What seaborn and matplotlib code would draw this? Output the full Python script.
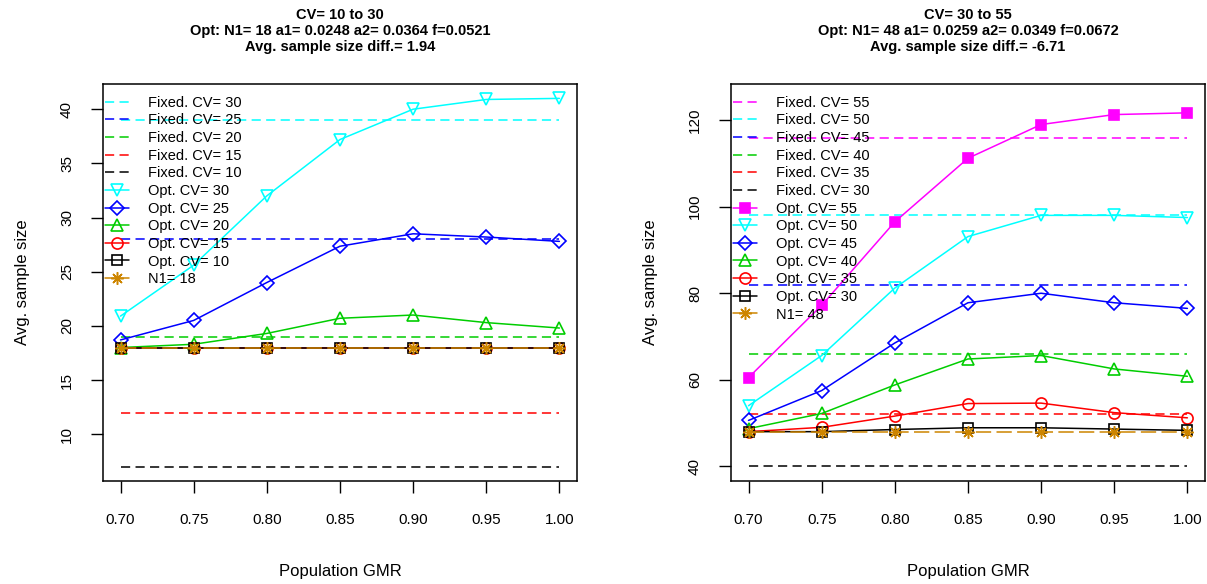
import matplotlib
matplotlib.use("Agg")
import matplotlib.pyplot as plt
import seaborn as sns

# population GMR grid
gmr = [0.70, 0.75, 0.80, 0.85, 0.90, 0.95, 1.00]

# left panel: CV 10 to 30
left_fixed_cv = [30, 25, 20, 15, 10]
left_fixed_n = [39, 28, 19, 12, 7]
left_opt_cv = [30, 25, 20, 15, 10]
left_opt_30 = [20.9, 25.6, 32.0, 37.2, 40.0, 40.9, 41.0]
left_opt_25 = [18.7, 20.5, 24.0, 27.35, 28.5, 28.2, 27.8]
left_opt_20 = [18.0, 18.3, 19.3, 20.7, 21.0, 20.3, 19.8]
left_opt_15 = [18.0, 18.0, 18.0, 18.0, 18.0, 18.0, 18.0]
left_opt_10 = [18.0, 18.0, 18.0, 18.0, 18.0, 18.0, 18.0]
left_n1 = 18

# right panel: CV 30 to 55
right_fixed_cv = [55, 50, 45, 40, 35, 30]
right_fixed_n = [116, 98, 82, 66, 52, 40]
right_opt_cv = [55, 50, 45, 40, 35, 30]
right_opt_55 = [60.5, 77.2, 96.5, 111.2, 119.0, 121.3, 121.7]
right_opt_50 = [54.0, 65.6, 81.2, 93.1, 98.0, 98.0, 97.5]
right_opt_45 = [50.6, 57.5, 68.5, 77.8, 80.0, 77.8, 76.5]
right_opt_40 = [48.7, 52.2, 58.8, 64.8, 65.6, 62.5, 60.8]
right_opt_35 = [48.0, 49.0, 51.6, 54.5, 54.6, 52.4, 51.2]
right_opt_30 = [48.0, 48.0, 48.5, 48.9, 48.9, 48.6, 48.3]
right_n1 = 48

left_title = ("CV= 10 to 30\nOpt: N1= 18 a1= 0.0248 a2= 0.0364 f=0.0521\n"
              "Avg. sample size diff.= 1.94")
right_title = ("CV= 30 to 55\nOpt: N1= 48 a1= 0.0259 a2= 0.0349 f=0.0672\n"
               "Avg. sample size diff.= -6.71")

GREEN = "#00CD00"
ORANGE = "#CD8500"
left_style = {30: ("cyan", "v", False), 25: ("blue", "D", False), 20: (GREEN, "^", False),
              15: ("red", "o", False), 10: ("black", "s", False)}
right_style = {55: ("magenta", "s", True), 50: ("cyan", "v", False), 45: ("blue", "D", False),
               40: (GREEN, "^", False), 35: ("red", "o", False), 30: ("black", "s", False)}
msize = {"v": 9, "D": 7, "^": 9, "o": 8, "s": 7}

sns.set_style("ticks")
plt.rcParams["font.family"] = ["Liberation Sans", "DejaVu Sans"]
plt.rcParams["text.color"] = "black"
plt.rcParams["axes.labelcolor"] = "black"

DASH = (0, (6, 3.5))
LW = 1.1


def draw_panel(ax, fixed_cv, fixed_n, opt_cv, opt_vals, n1, style, title, ylim, yticks):
    for cv, n in zip(fixed_cv, fixed_n):
        sns.lineplot(x=gmr, y=[n] * len(gmr), ax=ax, color=style[cv][0], lw=LW,
                     linestyle=DASH, label=f"Fixed. CV= {cv}")
    for cv, vals in zip(opt_cv, opt_vals):
        col, mk, filled = style[cv]
        sns.lineplot(x=gmr, y=vals, ax=ax, color=col, lw=LW, marker=mk,
                     markersize=msize[mk], markeredgewidth=1.2, markeredgecolor=col,
                     markerfacecolor=col if filled else "none",
                     label=f"Opt. CV= {cv}")
    sns.lineplot(x=gmr, y=[n1] * len(gmr), ax=ax, color=ORANGE, lw=LW,
                 linestyle=(0, (10, 3.5)), marker=(8, 2, 0), markersize=9,
                 markeredgewidth=1.1, markeredgecolor=ORANGE, label=f"N1= {n1}")

    leg = ax.legend(loc="upper left", bbox_to_anchor=(0.005, 0.97), frameon=False,
                    fontsize=10.5, handlelength=1.6, handletextpad=1.35,
                    labelspacing=0.25, borderpad=0, borderaxespad=0)
    leg.legend_handles[-1].set_linestyle("-")

    ax.set_xlim(0.688, 1.012)
    ax.set_ylim(*ylim)
    ax.set_xticks(gmr)
    ax.set_xticklabels([f"{g:.2f}" for g in gmr])
    ax.set_yticks(yticks)
    ax.tick_params(direction="out", length=8.8, width=1, pad=14, labelsize=11,
                   colors="black")
    ax.tick_params(axis="y", labelrotation=90, pad=12)
    for lab in ax.get_yticklabels():
        lab.set_va("center")
    for sp in ax.spines.values():
        sp.set_visible(True)
        sp.set_linewidth(1.1)
        sp.set_color("black")
    ax.set_xlabel("Population GMR", fontsize=12, labelpad=27)
    ax.set_ylabel("Avg. sample size", fontsize=12, labelpad=22)
    ax.set_title(title, fontsize=10.5, fontweight="bold", linespacing=1.2, pad=23.5)


fig = plt.figure(figsize=(12.07, 5.84), dpi=100)
ax1 = fig.add_axes([0.0853, 0.1764, 0.3927, 0.680])
ax2 = fig.add_axes([0.6056, 0.1764, 0.3927, 0.680])

draw_panel(ax1, left_fixed_cv, left_fixed_n, left_opt_cv,
           [left_opt_30, left_opt_25, left_opt_20, left_opt_15, left_opt_10],
           left_n1, left_style, left_title, (5.68, 42.34), [10, 15, 20, 25, 30, 35, 40])
draw_panel(ax2, right_fixed_cv, right_fixed_n, right_opt_cv,
           [right_opt_55, right_opt_50, right_opt_45, right_opt_40, right_opt_35, right_opt_30],
           right_n1, right_style, right_title, (36.6, 128.4), [40, 60, 80, 100, 120])

fig.savefig("out.png", dpi=100)
